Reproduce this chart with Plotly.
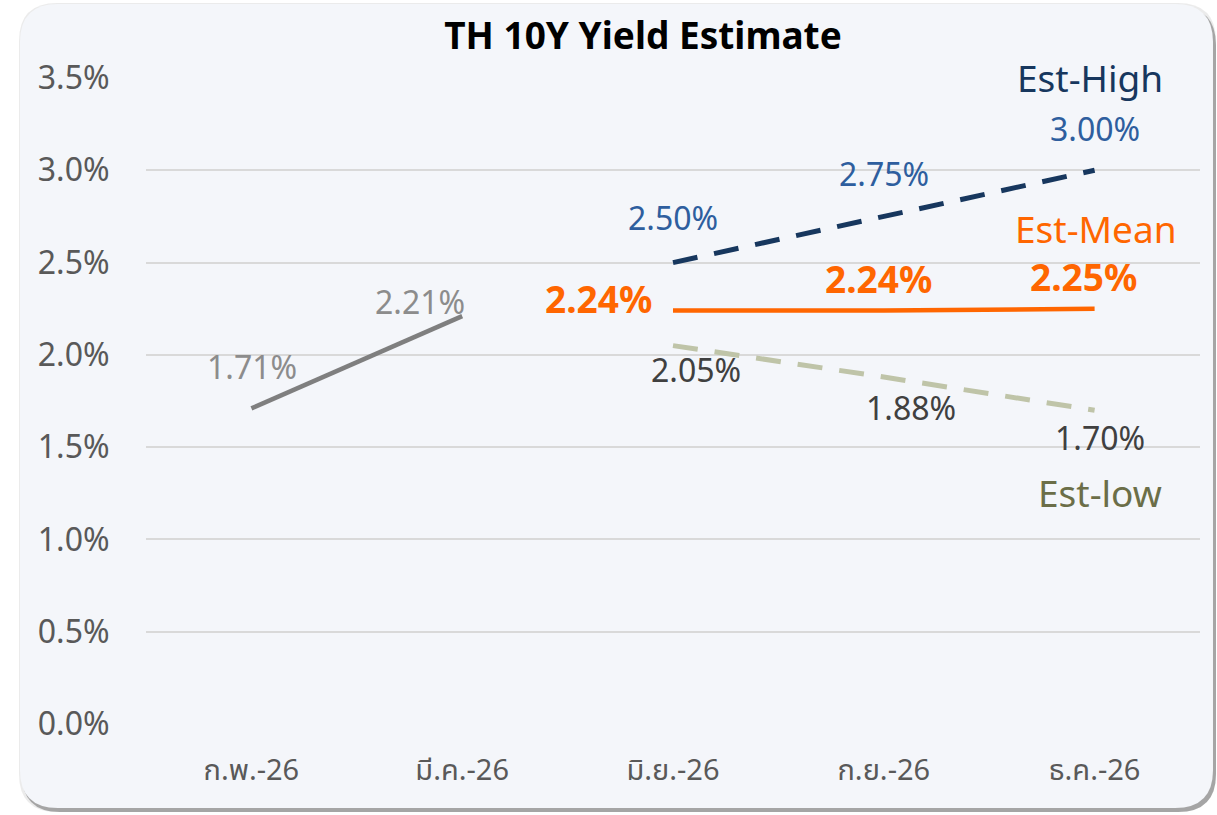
import plotly.graph_objects as go

months = ["ก.พ.-26", "มี.ค.-26", "มิ.ย.-26", "ก.ย.-26", "ธ.ค.-26"]
actual_x = months[:2]
actual_y = [1.71, 2.21]
est_x = months[2:]
est_high = [2.50, 2.75, 3.00]
est_mean = [2.24, 2.24, 2.25]
est_low = [2.05, 1.88, 1.70]
y_ticks = [0.0, 0.5, 1.0, 1.5, 2.0, 2.5, 3.0, 3.5]
y_tick_text = ["0.0%", "0.5%", "1.0%", "1.5%", "2.0%", "2.5%", "3.0%", "3.5%"]

W, H = 1217, 815
L, R, T, B = 146, 17, 78, 91
PW, PH = W - L - R, H - T - B

def px2paper(px, py):
    return (px - L) / PW, (H - B - py) / PH

def rounded_path(x0, y0, x1, y1, r):
    pts = [
        ("M", [(x0 + r, y0)]),
        ("L", [(x1 - r, y0)]),
        ("Q", [(x1, y0), (x1, y0 + r)]),
        ("L", [(x1, y1 - r)]),
        ("Q", [(x1, y1), (x1 - r, y1)]),
        ("L", [(x0 + r, y1)]),
        ("Q", [(x0, y1), (x0, y1 - r)]),
        ("L", [(x0, y0 + r)]),
        ("Q", [(x0, y0), (x0 + r, y0)]),
    ]
    s = ""
    for cmd, ps in pts:
        s += cmd + " " + " ".join("%.5f,%.5f" % px2paper(*p) for p in ps) + " "
    return s + "Z"

FONT = "Noto Sans Thai, Noto Sans"
fig = go.Figure()

fig.add_trace(go.Scatter(x=actual_x, y=actual_y, mode="lines",
                         line=dict(color="#7F7F7F", width=4.5), showlegend=False))
fig.add_trace(go.Scatter(x=est_x, y=est_high, mode="lines",
                         line=dict(color="#17375E", width=5, dash="25px,17px"), showlegend=False))
fig.add_trace(go.Scatter(x=est_x, y=est_mean, mode="lines",
                         line=dict(color="#FF6600", width=4.5), showlegend=False))
fig.add_trace(go.Scatter(x=est_x, y=est_low, mode="lines",
                         line=dict(color="#BFC4A8", width=5, dash="25px,17px"), showlegend=False))

def lab(x, y, text, dx, dy, color, size=32, bold=False):
    fig.add_annotation(x=x, y=y, xref="x", yref="y", text=("<b>%s</b>" % text) if bold else text,
                       showarrow=False, xshift=dx, yshift=dy, borderpad=0,
                       font=dict(family="Noto Sans", size=size, color=color),
                       xanchor="center", yanchor="middle")

fmt = lambda v: "%.2f%%" % v
# actual
lab(actual_x[0], actual_y[0], fmt(actual_y[0]), 1, 42, "#8C8C8C")
lab(actual_x[1], actual_y[1], fmt(actual_y[1]), -42, 15, "#8C8C8C")
# high
for i, (dx, dy) in enumerate([(0, 45), (0, 43), (0, 42)]):
    lab(est_x[i], est_high[i], fmt(est_high[i]), dx, dy, "#2E5E9E")
lab(est_x[2], est_high[2], "Est-High", -5, 93, "#17375E", size=37)
# mean
for i, (dx, dy) in enumerate([(-75, 12), (-5, 32), (-11, 32)]):
    lab(est_x[i], est_mean[i], fmt(est_mean[i]), dx, dy, "#FF6600", size=37, bold=True)
lab(est_x[2], est_mean[2], "Est-Mean", 1, 80, "#FF6600", size=37)
# low
for i, (dx, dy) in enumerate([(23, -24), (27, -30), (5, -27)]):
    lab(est_x[i], est_low[i], fmt(est_low[i]), dx, dy, "#404040")
lab(est_x[2], est_low[2], "Est-low", 5, -82, "#6B6E48", size=37)

# card with shadow
shapes = [
    dict(type="path", path=rounded_path(19, 3, 1216, 812, 38), xref="paper", yref="paper",
         fillcolor="rgba(0,0,0,0.08)", line=dict(width=0), layer="below"),
    dict(type="path", path=rounded_path(22, 7, 1216, 812, 38), xref="paper", yref="paper",
         fillcolor="rgba(80,80,80,0.45)", line=dict(width=0), layer="below"),
    dict(type="path", path=rounded_path(20, 4, 1213, 808, 38), xref="paper", yref="paper",
         fillcolor="#F4F6FA", line=dict(width=0), layer="below"),
]

fig.update_layout(
    width=W, height=H,
    margin=dict(l=L, r=R, t=T, b=B),
    paper_bgcolor="white", plot_bgcolor="rgba(0,0,0,0)",
    shapes=shapes,
    title=dict(text="<b>TH 10Y Yield Estimate</b>", x=643 / W, xanchor="center",
               y=1 - 36 / H, yanchor="middle",
               font=dict(family="Noto Sans", size=37, color="#000000")),
    xaxis=dict(type="category", categoryorder="array", categoryarray=months,
               range=[-0.5, 4.5], showgrid=False, zeroline=False, showline=False,
               ticks="outside", ticklen=20, tickcolor="rgba(0,0,0,0)",
               tickfont=dict(family=FONT, size=29, color="#595959")),
    yaxis=dict(range=[0, 3.5], tickvals=y_ticks, ticktext=y_tick_text,
               showgrid=True, gridcolor="#D9D9D9", gridwidth=1.5, zeroline=False,
               showline=False, ticks="outside", ticklen=29, tickcolor="rgba(0,0,0,0)",
               tickfont=dict(family="Noto Sans", size=32, color="#595959")),
    showlegend=False,
)

fig.write_html("out.html", config={"displayModeBar": False},
               post_script="document.body.style.margin='0';document.body.style.padding='0';document.body.style.overflow='hidden';")
